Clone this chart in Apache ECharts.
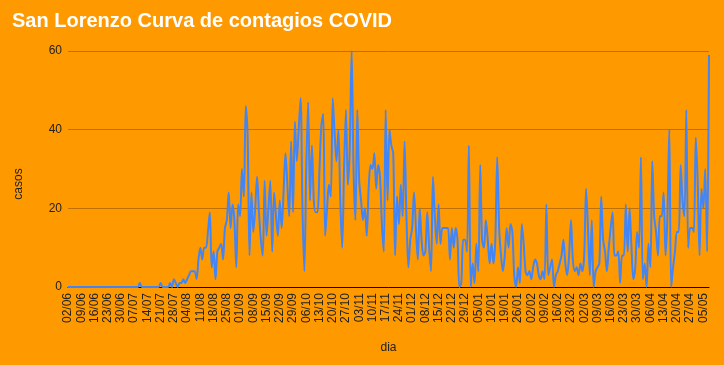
<!DOCTYPE html>
<html>
<head>
<meta charset="utf-8">
<script src="https://cdn.jsdelivr.net/npm/echarts@6/dist/echarts.min.js"></script>
<style>
html,body{margin:0;padding:0;background:#FF9900;}
#c{width:724px;height:365px;}
</style>
</head>
<body>
<div id="c"></div>
<script>
// Daily dates 02/06/2020 .. 08/05/2021 (01/05/2021 missing in source data)
const startDate = "2020-06-02";
const endDate = "2021-05-08";
const skippedDates = ["01/05"];

// Daily cases (casos), one per date
const casos = [
 0,0,0,0,0,0,0,0,0,0, 0,0,0,0,0,0,0,0,0,0,
 0,0,0,0,0,0,0,0,0,0, 0,0,0,0,0,0,0,0,1,0,
 0,0,0,0,0,0,0,0,0,1, 0,0,0,0,1,0,2,1,0,1,
 1,2,1,2,3,4,4,4,2,7, 10,7,10,10,14,19,5,9,2,9,
 10,11,7,15,17,24,15,21,17,5, 21,18,30,23,46,38,8,24,14,20,
 28,19,12,8,27,13,20,27,9,24, 18,13,22,15,24,34,26,18,37,19,
 42,32,40,48,20,4,30,47,22,36, 22,19,19,30,41,44,13,20,26,23,
 48,39,32,40,22,10,30,45,26,35, 60,30,17,45,27,22,17,20,13,25,
 31,30,34,25,31,28,16,9,45,22, 40,36,34,8,23,16,26,18,37,18,
 5,12,15,24,15,7,20,12,8,9, 19,10,4,28,18,11,21,11,15,15,
 15,15,7,15,10,15,12,0,1,12, 12,9,36,0,6,1,11,4,31,12,
 10,17,12,6,11,6,12,33,15,8, 4,8,15,10,16,14,3,0,5,1,
 16,11,4,3,4,2,5,7,6,3, 2,4,2,21,3,5,7,0,3,4,
 6,8,12,6,3,8,17,7,4,5, 3,6,4,8,25,15,3,17,0,4,
 5,6,23,12,9,4,10,15,19,8, 8,9,1,8,8,21,9,20,10,2,
 5,14,10,33,2,6,0,11,5,32, 18,14,8,18,18,24,8,18,40,0,
 5,9,14,14,31,22,18,45,10,15, 15,14,38,27,8,25,20,30,9,59
];

const yTicks = { min: 0, max: 60, interval: 20 };
const titleText = "San Lorenzo Curva de contagios COVID";
const xName = "dia";
const yName = "casos";

function pad(n){ return (n<10?"0":"")+n; }
const dias = [];
(function(){
  const d = new Date(startDate + "T12:00:00");
  const e = new Date(endDate + "T12:00:00");
  while (d <= e) {
    const s = pad(d.getDate()) + "/" + pad(d.getMonth()+1);
    if (skippedDates.indexOf(s) < 0) dias.push(s);
    d.setDate(d.getDate()+1);
  }
})();

const FONT = 'Liberation Sans, Arial, sans-serif';
const chart = echarts.init(document.getElementById('c'), null, {renderer:'canvas'});
chart.setOption({
  backgroundColor: '#FF9900',
  animation: false,
  title: {
    text: titleText,
    left: 7, top: 6,
    textStyle: { color: '#ffffff', fontSize: 20, fontWeight: 'bold', fontFamily: FONT }
  },
  grid: { left: 68, right: 15, top: 51, bottom: 78 },
  xAxis: {
    type: 'category',
    data: dias,
    boundaryGap: false,
    name: xName,
    nameLocation: 'middle',
    nameGap: 55,
    nameTextStyle: { color: '#222222', fontSize: 12, fontFamily: FONT },
    axisLine: { lineStyle: { color: '#000000', width: 1 } },
    axisTick: { show: false },
    axisLabel: { interval: 6, rotate: 90, color: '#222222', fontSize: 12, margin: 6, fontFamily: FONT },
    splitLine: { show: false }
  },
  yAxis: {
    type: 'value',
    min: yTicks.min, max: yTicks.max, interval: yTicks.interval,
    name: yName,
    nameLocation: 'middle',
    nameGap: 43,
    nameRotate: 90,
    nameTextStyle: { color: '#222222', fontSize: 12, fontFamily: FONT, padding: [0, 30, 0, 0] },
    axisLine: { show: false },
    axisTick: { show: false },
    axisLabel: { color: '#222222', fontSize: 12, margin: 6, fontFamily: FONT },
    splitLine: { lineStyle: { color: '#BF7000', width: 1 } }
  },
  series: [{
    type: 'line',
    data: casos,
    smooth: 0.3,
    showSymbol: false,
    symbol: 'none',
    lineStyle: { color: '#4285F4', width: 2 },
    z: 3
  }]
});
</script>
</body>
</html>
